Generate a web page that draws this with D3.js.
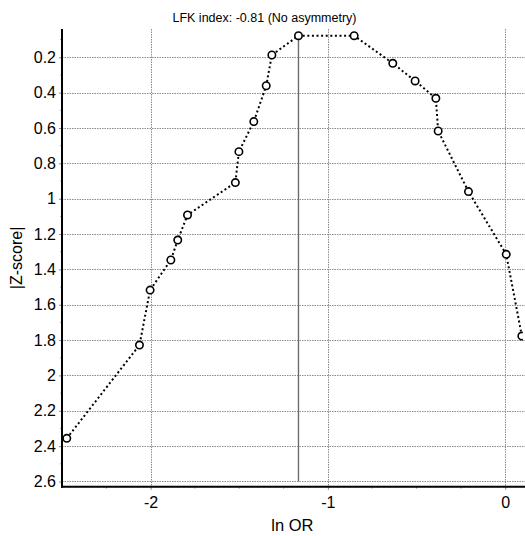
<!DOCTYPE html>
<html>
<head>
<meta charset="utf-8">
<script src="https://cdn.jsdelivr.net/npm/d3@7"></script>
<style>
  body { margin: 0; background: #fff; }
  svg { display: block; }
  text { font-family: "Liberation Sans", Arial, sans-serif; fill: #000; }
</style>
</head>
<body>
<svg id="chart" width="525" height="536"></svg>
<script>
// Doi plot: ln OR against |Z-score|, points joined in order along the curve
const lnOR = [-2.473, -2.063, -2.003, -1.886, -1.847, -1.792, -1.522, -1.502, -1.418, -1.348,
              -1.316, -1.166, -0.852, -0.634, -0.508, -0.391, -0.378, -0.207, 0.006, 0.094];
const absZ = [2.356, 1.828, 1.517, 1.347, 1.234, 1.092, 0.909, 0.734, 0.564, 0.361,
              0.187, 0.078, 0.078, 0.234, 0.334, 0.432, 0.617, 0.960, 1.315, 1.777];

const xTicks = [-2, -1, 0];
const xTickLabels = ["-2", "-1", "0"];
const xMinorTicks = [-2.25, -1.75, -1.5, -1.25, -0.75, -0.5, -0.25];
const yTicks = [0.2, 0.4, 0.6, 0.8, 1, 1.2, 1.4, 1.6, 1.8, 2, 2.2, 2.4, 2.6];
const yTickLabels = ["0.2", "0.4", "0.6", "0.8", "1", "1.2", "1.4", "1.6", "1.8", "2", "2.2", "2.4", "2.6"];
const yMinorTicks = [0.1, 0.3, 0.5, 0.7, 0.9, 1.1, 1.3, 1.5, 1.7, 1.9, 2.1, 2.3, 2.5];

const titleText = "LFK index: -0.81 (No asymmetry)";
const xLabel = "ln OR";
const yLabel = "|Z-score|";
// vertical reference line: ln OR of the point with the smallest |Z|
const refX = -1.166;
const refYTop = 0.078;
const refYBottom = 2.6;

const FONT = "'Liberation Sans', Arial, sans-serif";
const svg = d3.select("#chart");
const W = 525;

const x = d3.scaleLinear().domain([-2.5, 0.1]).range([62, 522.9]);
const y = d3.scaleLinear().domain([0.04, 2.63]).range([29, 486.8]);

const [x0, x1] = x.range();
const [y0, y1] = y.range();

svg.append("defs").append("clipPath").attr("id", "plotClip")
  .append("rect").attr("x", x0).attr("y", y0).attr("width", x1 - x0).attr("height", y1 - y0);

// grid
const grid = svg.append("g").attr("stroke", "#8c8c8c").attr("stroke-width", 1)
  .attr("stroke-dasharray", "1.5,1");
grid.selectAll("line.h").data(yTicks).join("line").attr("class", "h")
  .attr("x1", x0).attr("x2", W).attr("y1", d => Math.round(y(d)) + 0.5).attr("y2", d => Math.round(y(d)) + 0.5);
grid.selectAll("line.v").data(xTicks).join("line").attr("class", "v")
  .attr("y1", y0).attr("y2", y1).attr("x1", d => Math.round(x(d)) + 0.5).attr("x2", d => Math.round(x(d)) + 0.5);

// y axis
const yAxis = d3.axisLeft(y).tickValues(yTicks).tickFormat((d, i) => yTickLabels[i])
  .tickSize(3).tickSizeOuter(0).tickPadding(3);
const gy = svg.append("g").attr("transform", `translate(${x0},0)`).call(yAxis);
gy.select(".domain").remove();
gy.selectAll(".tick line").attr("stroke", "#888");
gy.selectAll(".tick text").style("font-size", "16px").style("font-family", FONT).attr("fill", "#000");

svg.append("g").selectAll("line").data(yMinorTicks).join("line")
  .attr("x1", x0 - 2).attr("x2", x0).attr("y1", d => y(d)).attr("y2", d => y(d))
  .attr("stroke", "#aaa");

// x axis
const xAxis = d3.axisBottom(x).tickValues(xTicks).tickFormat((d, i) => xTickLabels[i])
  .tickSize(3).tickSizeOuter(0).tickPadding(7);
const gx = svg.append("g").attr("transform", `translate(0,${y1})`).call(xAxis);
gx.select(".domain").remove();
gx.selectAll(".tick line").attr("stroke", "#888");
gx.selectAll(".tick text").style("font-size", "16px").style("font-family", FONT).attr("fill", "#000");

svg.append("g").selectAll("line").data(xMinorTicks).join("line")
  .attr("x1", d => x(d)).attr("x2", d => x(d)).attr("y1", y1).attr("y2", y1 + 2)
  .attr("stroke", "#aaa");

// axis lines
svg.append("line").attr("x1", x0).attr("x2", x0).attr("y1", y0).attr("y2", y1 + 1)
  .attr("stroke", "#000").attr("stroke-width", 2);
svg.append("line").attr("x1", x0 - 1).attr("x2", W).attr("y1", y1).attr("y2", y1)
  .attr("stroke", "#000").attr("stroke-width", 2);

// reference line
svg.append("line")
  .attr("x1", x(refX)).attr("x2", x(refX)).attr("y1", y(refYTop)).attr("y2", y(refYBottom))
  .attr("stroke", "#6e6e6e").attr("stroke-width", 1.4);

// curve and points
const pts = lnOR.map((v, i) => [v, absZ[i]]);
const plot = svg.append("g").attr("clip-path", "url(#plotClip)");
plot.append("path")
  .attr("d", d3.line().x(d => x(d[0])).y(d => y(d[1]))(pts))
  .attr("fill", "none").attr("stroke", "#000").attr("stroke-width", 2)
  .attr("stroke-dasharray", "2,2.6");
plot.selectAll("circle").data(pts).join("circle")
  .attr("cx", d => x(d[0])).attr("cy", d => y(d[1])).attr("r", 3.7)
  .attr("fill", "#fff").attr("stroke", "#000").attr("stroke-width", 1.6);

// texts
svg.append("text").attr("x", W / 2 + 2).attr("y", 22).attr("text-anchor", "middle")
  .style("font-size", "12.5px").style("font-family", FONT).text(titleText);
svg.append("text").attr("x", (x0 + x1) / 2).attr("y", 531).attr("text-anchor", "middle")
  .style("font-size", "16.5px").style("font-family", FONT).text(xLabel);
svg.append("text").attr("transform", `translate(22,${(y0 + y1) / 2}) rotate(-90)`)
  .attr("text-anchor", "middle").style("font-size", "16px").style("font-family", FONT).text(yLabel);
</script>
</body>
</html>
